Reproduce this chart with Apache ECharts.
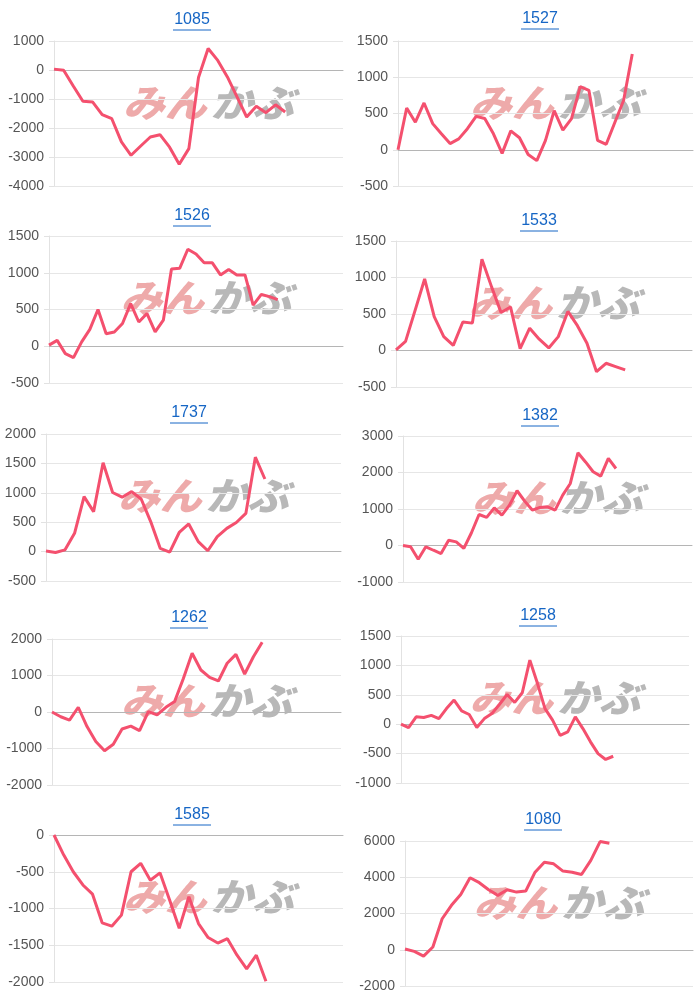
<!DOCTYPE html>
<html><head><meta charset="utf-8">
<script src="https://cdn.jsdelivr.net/npm/echarts@6/dist/echarts.min.js"></script>
<style>html,body{margin:0;padding:0;background:#fff}#c{width:700px;height:1000px}</style>
</head><body><div id="c"></div><script>
// ---- data ----
const titles = ['1085','1527','1526','1533','1737','1382','1262','1258','1585','1080'];
const s1085 = [30,-10,-550,-1080,-1100,-1540,-1680,-2480,-2940,-2620,-2310,-2230,-2660,-3250,-2710,-260,740,330,-240,-930,-1620,-1250,-1470,-1200,-1450];
const s1527 = [0,575,380,645,360,220,85,150,290,460,430,220,-50,260,165,-65,-150,130,540,270,430,870,820,130,75,380,680,1320];
const s1526 = [15,80,-100,-155,60,230,500,170,195,310,580,330,445,195,355,1050,1060,1320,1255,1135,1135,970,1045,970,970,560,705,675,635];
const s1533 = [10,125,550,980,465,190,70,390,375,1250,875,520,595,25,305,155,35,190,535,340,100,-290,-175,-220,-265];
const s1737 = [10,-15,30,310,935,680,1510,1005,925,1020,895,510,55,-10,325,470,170,15,255,395,495,650,1605,1235];
const s1382 = [0,-35,-375,-35,-130,-220,145,100,-80,350,850,770,1030,830,1105,1500,1215,970,1040,1060,970,1380,1700,2540,2290,2020,1900,2385,2110];
const s1262 = [0,-130,-220,130,-400,-810,-1060,-885,-465,-385,-510,10,-80,130,285,920,1610,1150,950,850,1335,1580,1040,1515,1910];
const s1258 = [0,-60,125,115,150,95,265,410,225,165,-55,95,180,340,505,370,535,1090,695,265,70,-190,-130,125,-75,-300,-500,-600,-545];
const s1585 = [0,-270,-500,-680,-805,-1195,-1240,-1090,-500,-385,-615,-515,-885,-1270,-840,-1205,-1395,-1470,-1410,-1635,-1820,-1635,-1990];
const s1080 = [40,-90,-350,150,1710,2450,3050,3970,3700,3310,3000,3310,3180,3240,4280,4830,4740,4340,4280,4150,4930,5970,5880];
const seriesData = [s1085,s1527,s1526,s1533,s1737,s1382,s1262,s1258,s1585,s1080];
const yMin  = [-4000,-500,-500,-500,-500,-1000,-2000,-1000,-2000,-2000];
const yMax  = [1000,1500,1500,1500,2000,3000,2000,1500,0,6000];
const yStep = [1000,500,500,500,500,1000,1000,500,500,2000];
const slots = [31,35,37,32,32,39,34,39,31,32];

// ---- layout ----
const layout = [
 {l:54,r:343,t:41,b:186,tx:192,ty:21},
 {l:398,r:693,t:41,b:186,tx:540,ty:20},
 {l:49,r:343,t:236,b:383,tx:192,ty:217},
 {l:396,r:692,t:241,b:387,tx:539,ty:222},
 {l:46,r:341,t:434,b:581,tx:189,ty:414},
 {l:403,r:692,t:436,b:582,tx:540,ty:417},
 {l:52,r:341,t:639,b:785,tx:189,ty:619},
 {l:401,r:689,t:636,b:783,tx:538,ty:617},
 {l:54,r:343,t:835,b:982,tx:192,ty:816},
 {l:405,r:693,t:841,b:986,tx:543,ty:821}
];
const FONT = '"Liberation Sans", Arial, sans-serif';
const titleColor = '#1666c5';
const lineColor = '#f4506e';

const grid=[], xAxis=[], yAxis=[], series=[], title=[], graphic=[];
layout.forEach((L,i)=>{
  grid.push({left:L.l, top:L.t, width:L.r-L.l, height:L.b-L.t});
  xAxis.push({type:'category', gridIndex:i, boundaryGap:false,
    data:Array.from({length:slots[i]},(_,k)=>String(k+1)),
    axisLabel:{show:false}, axisTick:{show:false}, splitLine:{show:false},
    axisLine:{show:true, onZero:true, lineStyle:{color:'#b5b5b5', width:1}}});
  yAxis.push({type:'value', gridIndex:i, min:yMin[i], max:yMax[i], interval:yStep[i],
    axisLine:{show:true, lineStyle:{color:'#e2e2e2'}},
    axisTick:{show:true, length:5, lineStyle:{color:'#e2e2e2'}},
    splitLine:{lineStyle:{color:'#e6e6e6'}},
    axisLabel:{color:'#555', fontSize:14, fontFamily:FONT, margin:10, formatter:v=>String(v)}});
  series.push({type:'line', xAxisIndex:i, yAxisIndex:i, data:seriesData[i],
    showSymbol:false, symbol:'none', lineStyle:{color:lineColor, width:3}, z:5, animation:false});
  title.push({text:titles[i], left:L.tx, top:L.ty-9, textAlign:'center', padding:0,
    textStyle:{color:titleColor, fontSize:16, fontWeight:'normal', fontFamily:FONT}});
  graphic.push({type:'line', shape:{x1:L.tx-19, y1:L.ty+9, x2:L.tx+19, y2:L.ty+9},
    style:{stroke:titleColor, lineWidth:1}, silent:true});
  const sx = (L.l+L.r)/2 + 8, sy = L.t + 62;
  graphic.push({type:'text', x:sx, y:sy, z:0, silent:true, scaleX:1.1,
    style:{text:'みん', fill:'#eeaaaa', font:'italic 900 38px "Noto Sans CJK JP"', align:'right', verticalAlign:'middle'}});
  graphic.push({type:'text', x:sx+4, y:sy, z:0, silent:true, scaleX:1.1,
    style:{text:'かぶ', fill:'#b8b8b8', font:'italic 900 38px "Noto Sans CJK JP"', align:'left', verticalAlign:'middle'}});
});

const chart = echarts.init(document.getElementById('c'), null, {renderer:'canvas'});
chart.setOption({animation:false, backgroundColor:'#fff', title, grid, xAxis, yAxis, series, graphic});
</script></body></html>
